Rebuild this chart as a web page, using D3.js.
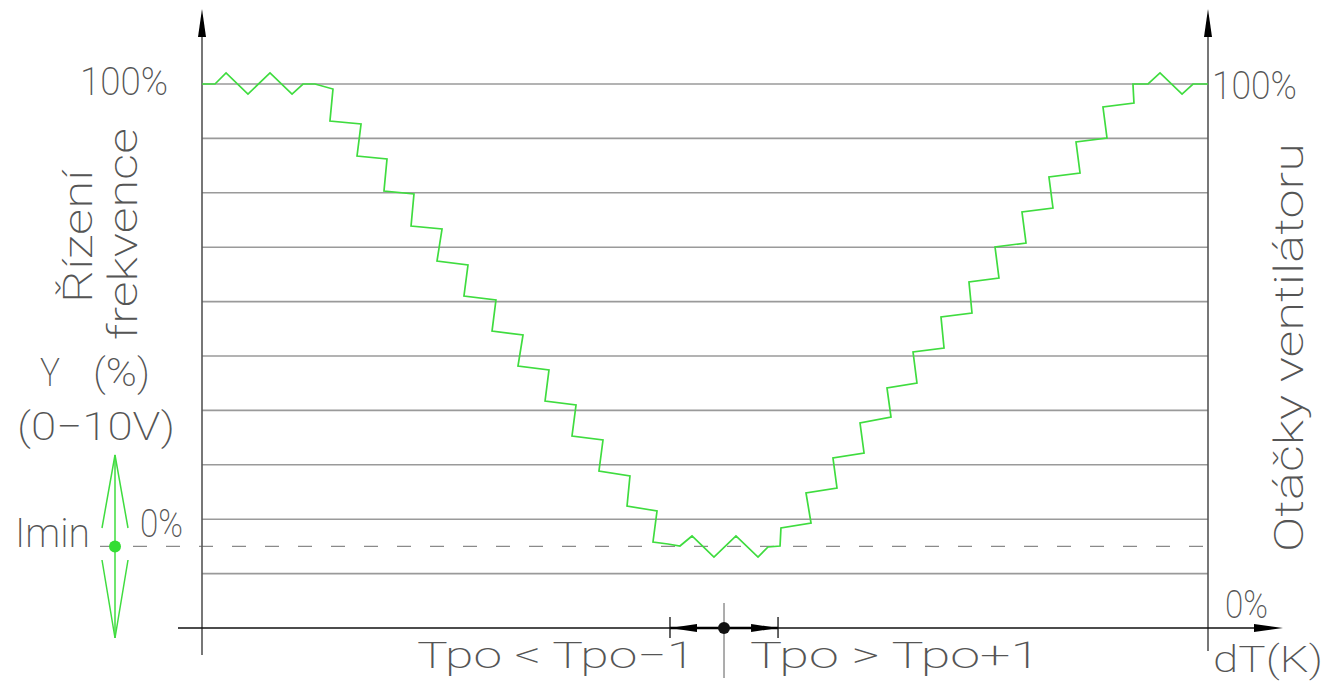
<!DOCTYPE html>
<html><head><meta charset="utf-8">
<script src="https://cdn.jsdelivr.net/npm/d3@7"></script>
<style>
html,body{margin:0;padding:0;background:#fff;}
svg{display:block;}
text{font-family:"Roboto","DejaVu Sans",sans-serif;font-weight:200;fill:#555;}
</style></head>
<body>
<svg id="c" width="1330" height="682"></svg>
<script>
// ---- data ----
const gridLevels = [100, 87.5, 75, 62.5, 50, 37.5, 25, 12.5, 0, -12.5];
const iminLevel = -6.25;
const lineX = [0,1.29,2.39,4.57,6.76,8.95,10.04,11.23,
  13.02,12.72,15.81,15.41,18.39,18.09,21.07,20.78,23.86,23.36,26.44,26.04,29.22,28.83,31.91,31.41,34.49,34.10,37.18,36.78,39.86,39.46,42.54,42.25,45.23,44.83,46.32,47.51,
  48.71,50.89,53.08,55.27,56.26,57.46,
  57.55,60.54,60.04,63.12,62.72,65.81,65.41,68.49,68.09,71.07,70.68,73.76,73.46,76.54,76.24,79.22,78.83,81.91,81.51,84.59,84.19,87.28,86.88,89.96,89.56,92.64,92.54,94.04,95.23,97.42,98.51,100];
const lineY = [100,100,102.53,97.70,102.53,97.70,100,100,
  98.85,91.50,90.81,83.46,82.77,75.41,74.72,67.37,66.68,59.33,58.41,51.29,50.37,43.24,42.33,35.20,34.28,27.16,26.24,19.12,18.20,11.08,9.93,3.03,1.88,-5.24,-5.70,-6.16,
  -3.86,-8.69,-3.86,-8.69,-6.39,-6.16,
  -2.02,-0.87,6.02,7.17,14.06,15.21,22.10,23.48,30.15,31.30,38.42,39.34,46.46,47.38,54.50,55.42,62.55,63.47,70.59,71.51,78.63,79.55,86.67,87.59,94.71,95.63,100,100,102.53,97.70,100,100];
const tpoMarks = {minus: 46.52, center: 51.89, plus: 57.26};
const labels = {
  leftTop: "100%", rightTop: "100%", leftZero: "0%", rightZero: "0%",
  imin: "Imin", volt: "(0\u221210V)", yLetter: "Y", pct: "(%)",
  rot1: "\u0158\u00edzen\u00ed", rot2: "frekvence", rot3: "Ot\u00e1\u010dky ventil\u00e1toru",
  xLeft: "Tpo < Tpo\u22121", xRight: "Tpo > Tpo+1", xUnit: "dT(K)"
};

// ---- scales ----
const x = d3.scaleLinear().domain([0, 100]).range([202, 1208]);
const y = d3.scaleLinear().domain([-25, 100]).range([628, 84]);
const svg = d3.select("#c");

// grid lines
svg.append("g").selectAll("line").data(gridLevels).join("line")
  .attr("x1", x(0)).attr("x2", x(100))
  .attr("y1", d => y(d)).attr("y2", d => y(d))
  .attr("stroke", "#9a9a9a").attr("stroke-width", 1.6);

// dashed Imin line
svg.append("line")
  .attr("x1", 100).attr("x2", x(100))
  .attr("y1", y(iminLevel)).attr("y2", y(iminLevel))
  .attr("stroke", "#8a8a8a").attr("stroke-width", 1.3)
  .attr("stroke-dasharray", "14,19");

// axes
const axisG = svg.append("g");
axisG.append("line").attr("x1", x(0)).attr("x2", x(0)).attr("y1", 30).attr("y2", 655)
  .attr("stroke", "#555").attr("stroke-width", 1.6);
axisG.append("line").attr("x1", x(100)).attr("x2", x(100)).attr("y1", 30).attr("y2", 651)
  .attr("stroke", "#555").attr("stroke-width", 1.6);
axisG.append("line").attr("x1", 178).attr("x2", 1260).attr("y1", y(-25)).attr("y2", y(-25))
  .attr("stroke", "#111").attr("stroke-width", 1.4);
function tri(pts){ axisG.append("path").attr("d", "M" + pts.map(p => p.join(",")).join("L") + "Z").attr("fill", "#000"); }
tri([[x(0), 9], [x(0) - 4, 37], [x(0) + 4, 37]]);
tri([[x(100), 9], [x(100) - 4, 37], [x(100) + 4, 37]]);
tri([[1283, y(-25)], [1254, y(-25) - 4], [1254, y(-25) + 4]]);

// green stepped line
const pts = lineX.map((v, i) => [x(v), y(lineY[i])]);
svg.append("path").attr("d", d3.line()(pts))
  .attr("fill", "none").attr("stroke", "#3fdc3f").attr("stroke-width", 1.7)
  .attr("stroke-linejoin", "miter");

// Tpo marker
const ay = y(-25);
svg.append("line").attr("x1", x(tpoMarks.center)).attr("x2", x(tpoMarks.center))
  .attr("y1", 603).attr("y2", 678).attr("stroke", "#8a8a8a").attr("stroke-width", 1.4);
svg.append("line").attr("x1", x(tpoMarks.minus)).attr("x2", x(tpoMarks.plus))
  .attr("y1", ay).attr("y2", ay).attr("stroke", "#000").attr("stroke-width", 2.6);
[tpoMarks.minus, tpoMarks.plus].forEach(v => {
  svg.append("line").attr("x1", x(v)).attr("x2", x(v)).attr("y1", ay - 11).attr("y2", ay + 10)
    .attr("stroke", "#111").attr("stroke-width", 1.3);
});
svg.append("path").attr("d", `M${x(tpoMarks.minus)},${ay}L${x(tpoMarks.minus)+27},${ay-4}L${x(tpoMarks.minus)+27},${ay+4}Z`).attr("fill", "#000");
svg.append("path").attr("d", `M${x(tpoMarks.plus)},${ay}L${x(tpoMarks.plus)-27},${ay-4}L${x(tpoMarks.plus)-27},${ay+4}Z`).attr("fill", "#000");
svg.append("circle").attr("cx", x(tpoMarks.center)).attr("cy", ay).attr("r", 6).attr("fill", "#111");

// Imin green double arrow
const ix = 115, iy = y(iminLevel);
const g = svg.append("g").attr("stroke", "#3fdc3f").attr("stroke-width", 1.5).attr("fill", "none");
g.append("line").attr("x1", ix).attr("x2", ix).attr("y1", 455).attr("y2", 638);
g.append("path").attr("d", `M${ix-13},528L${ix},455L${ix+13},528`);
g.append("path").attr("d", `M${ix-13},560L${ix},638L${ix+13},560`);
svg.append("circle").attr("cx", ix).attr("cy", iy).attr("r", 6).attr("fill", "#33dd33");

// text helper
function txt(s, xx, yy, size, len, rot) {
  const t = svg.append("text").text(s).attr("font-size", size)
    .attr("textLength", len).attr("lengthAdjust", "spacingAndGlyphs");
  if (rot) t.attr("transform", `translate(${xx},${yy}) rotate(-90)`);
  else t.attr("x", xx).attr("y", yy);
  return t;
}
txt(labels.leftTop, 80, 95, 39, 88);
txt(labels.rightTop, 1212, 99, 39, 85);
txt(labels.leftZero, 140, 537, 38, 43);
txt(labels.rightZero, 1225, 618, 38, 43);
txt(labels.imin, 15, 547, 41, 75);
txt(labels.volt, 17, 440, 39, 158);
txt(labels.yLetter, 40, 386, 39, 20);
txt(labels.pct, 93, 386, 39, 57);
txt(labels.rot1, 92, 303, 41, 133, true);
txt(labels.rot2, 137, 340, 41, 212, true);
txt(labels.rot3, 1303, 552, 41, 409, true);
txt(labels.xLeft, 417, 668, 37, 278);
txt(labels.xRight, 750, 668, 37, 290);
txt(labels.xUnit, 1213, 672, 37, 110);
</script>
</body></html>
